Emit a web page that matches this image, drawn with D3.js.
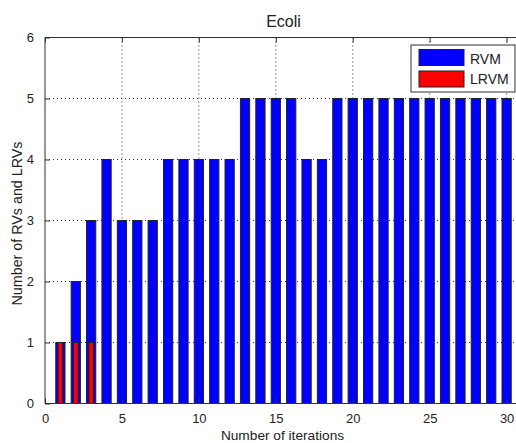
<!DOCTYPE html>
<html>
<head>
<meta charset="utf-8">
<script src="https://cdn.jsdelivr.net/npm/d3@7"></script>
<style>
  body { margin: 0; background: #fff; }
  svg { font-family: "Liberation Sans", Arial, sans-serif; }
</style>
</head>
<body>
<div id="chart"></div>
<script>
  // iterations 1..30
  const iterations = d3.range(1, 31);
  const rvm = [1, 2, 3, 4, 3, 3, 3, 4, 4, 4, 4, 4, 5, 5, 5, 5, 4, 4, 5, 5, 5, 5, 5, 5, 5, 5, 5, 5, 5, 5];
  const lrvm = [1, 1, 1, 0, 0, 0, 0, 0, 0, 0, 0, 0, 0, 0, 0, 0, 0, 0, 0, 0, 0, 0, 0, 0, 0, 0, 0, 0, 0, 0];
  const xTicks = [0, 5, 10, 15, 20, 25, 30];
  const yTicks = [0, 1, 2, 3, 4, 5, 6];
  const seriesNames = ['RVM', 'LRVM'];

  const W = 516, H = 443;
  const margin = { top: 37.5, left: 45 };
  const plotW = 477, plotH = 366;

  const svg = d3.select('#chart').append('svg')
    .attr('width', W)
    .attr('height', H);

  const g = svg.append('g')
    .attr('transform', `translate(${margin.left},${margin.top})`);

  const x = d3.scaleLinear().domain([0, 31]).range([0, plotW]);
  const y = d3.scaleLinear().domain([0, 6]).range([plotH, 0]);
  const unit = x(1) - x(0);

  // dotted grid
  g.append('g').selectAll('line')
    .data(xTicks.filter(d => d > 0))
    .enter().append('line')
    .attr('x1', d => x(d)).attr('x2', d => x(d))
    .attr('y1', 0).attr('y2', plotH)
    .attr('stroke', '#333').attr('stroke-dasharray', '1,3');
  g.append('g').selectAll('line')
    .data(yTicks.filter(d => d > 0 && d < 6))
    .enter().append('line')
    .attr('y1', d => y(d)).attr('y2', d => y(d))
    .attr('x1', 0).attr('x2', plotW)
    .attr('stroke', '#333').attr('stroke-dasharray', '1,3');

  // bars
  g.append('g').selectAll('rect')
    .data(iterations)
    .enter().append('rect')
    .attr('x', d => x(d) - unit * 0.3)
    .attr('width', unit * 0.6)
    .attr('y', (d, i) => y(rvm[i]))
    .attr('height', (d, i) => y(0) - y(rvm[i]))
    .attr('fill', '#0000ff')
    .attr('stroke', '#222')
    .attr('stroke-width', 1);

  g.append('g').selectAll('rect')
    .data(iterations.filter((d, i) => lrvm[i] > 0))
    .enter().append('rect')
    .attr('x', d => x(d) - unit * 0.15)
    .attr('width', unit * 0.3)
    .attr('y', d => y(lrvm[d - 1]))
    .attr('height', d => y(0) - y(lrvm[d - 1]))
    .attr('fill', '#ff0000')
    .attr('stroke', '#222')
    .attr('stroke-width', 1);

  // axes (MATLAB style: ticks inside)
  const xAxis = d3.axisBottom(x).tickValues(xTicks).tickSize(-5).tickPadding(10);
  const xAxisTop = d3.axisTop(x).tickValues(xTicks).tickSize(-5).tickFormat('');
  const yAxis = d3.axisLeft(y).tickValues(yTicks).tickSize(-5).tickPadding(11)
    .tickFormat(d3.format('d'));

  const gx = g.append('g').attr('transform', `translate(0,${plotH})`).call(xAxis);
  const gxt = g.append('g').call(xAxisTop);
  const gy = g.append('g').call(yAxis);
  [gx, gxt, gy].forEach(a => {
    a.selectAll('.tick line').attr('stroke', '#333');
    a.selectAll('.tick text').attr('fill', '#222').style('font-size', '13px');
    a.select('.domain').attr('stroke', '#333');
  });
  gx.select('.domain').attr('d', `M0,0H${plotW}`);
  gxt.select('.domain').attr('d', `M0,0H${plotW}`);
  gy.select('.domain').attr('d', `M0,0V${plotH}`);

  // title and labels
  svg.append('text')
    .attr('x', margin.left + plotW / 2).attr('y', 27)
    .attr('text-anchor', 'middle')
    .style('font-size', '16px').attr('fill', '#222')
    .text('Ecoli');
  svg.append('text')
    .attr('x', margin.left + plotW / 2 - 1).attr('y', 440)
    .attr('text-anchor', 'middle')
    .style('font-size', '13.7px').attr('fill', '#222')
    .text('Number of iterations');
  svg.append('text')
    .attr('transform', `translate(22,${margin.top + plotH / 2 + 3}) rotate(-90)`)
    .attr('text-anchor', 'middle')
    .style('font-size', '14.3px').attr('fill', '#222')
    .text('Number of RVs and LRVs');

  // legend
  const lg = svg.append('g').attr('transform', 'translate(411,45)');
  lg.append('rect')
    .attr('width', 104).attr('height', 47)
    .attr('fill', '#fff').attr('stroke', '#333');
  const colors = ['#0000ff', '#ff0000'];
  seriesNames.forEach((name, i) => {
    lg.append('rect')
      .attr('x', 8).attr('y', 4.5 + i * 21.5)
      .attr('width', 45).attr('height', 16)
      .attr('fill', colors[i]).attr('stroke', '#222');
    lg.append('text')
      .attr('x', 59).attr('y', 19.3 + i * 20)
      .style('font-size', '14px').attr('fill', '#222')
      .text(name);
  });
</script>
</body>
</html>
